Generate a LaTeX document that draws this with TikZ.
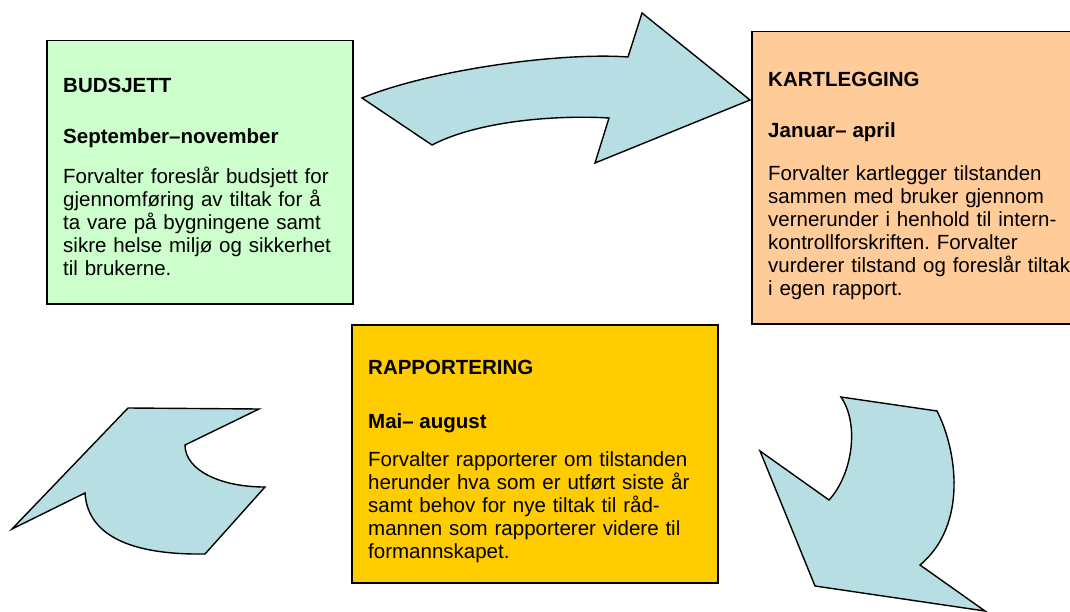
\documentclass[tikz,border=0pt]{standalone}
\usepackage{fontspec}
\setmainfont{Liberation Sans}
\frenchspacing
\definecolor{budfill}{HTML}{CCFFCC}
\definecolor{kartfill}{HTML}{FFCC99}
\definecolor{rappfill}{HTML}{FFCC00}
\definecolor{arrowfill}{RGB}{183,222,226}
\begin{document}
\begin{tikzpicture}[x=1pt,y=-1pt,
  phase/.style={draw=black, line width=1.5pt, anchor=north west, inner sep=0pt},
  txt/.style={anchor=base west, inner sep=0pt, align=left, text width=#1,
    font=\fontsize{20.5pt}{23pt}\selectfont},
  head/.style={anchor=base west, inner sep=0pt,
    font=\fontsize{20.5pt}{23pt}\selectfont\bfseries},
  bigarrow/.style={draw=black, line width=1.4pt, fill=arrowfill, line join=miter}
]
\useasboundingbox (0,0) rectangle (1070,612);

% curved arrows of the yearly cycle
\draw[bigarrow] (362,98) .. controls (430,70) and (560,52) .. (628,57)
  -- (642,13) -- (750,100) -- (595,163) -- (609,118)
  .. controls (560,115) and (480,120) .. (432,145) -- cycle;
\draw[bigarrow] (841,397) -- (937,411)
  .. controls (957,450) and (968,525) .. (920,565)
  -- (985,611) -- (815,586) -- (760,451) -- (829,500)
  .. controls (852,475) and (860,425) .. (841,397) -- cycle;
\draw[bigarrow] (128,408) -- (259,409) -- (185,445)
  .. controls (185,470) and (220,487) .. (265,487)
  -- (205,554) .. controls (140,555) and (88,540) .. (85,493)
  -- (12,529) -- cycle;

% phase boxes
\node[phase, fill=budfill, minimum width=306pt, minimum height=263pt] (bud) at (46,40) {};
\node[phase, fill=kartfill, minimum width=330pt, minimum height=292pt] (kart) at (751,31) {};
\node[phase, fill=rappfill, minimum width=366pt, minimum height=258pt] (rapp) at (351,324) {};

% budget
\node[head] (budH) at (63,93) {BUDSJETT};
\node[head] (budD) at (63,144) {September–november};
\node[txt=300pt] (budT) at (63,184) {Forvalter foreslår budsjett for\\
  gjennomføring av tiltak for å\\
  ta vare på bygningene samt\\
  sikre helse miljø og sikkerhet\\
  til brukerne.};

% survey
\node[head] (kartH) at (768,87) {KARTLEGGING};
\node[head] (kartD) at (768,138) {Januar– april};
\node[txt=310pt] (kartT) at (768,181) {Forvalter kartlegger tilstanden\\
  sammen med bruker gjennom\\
  vernerunder i henhold til intern-\\
  kontrollforskriften. Forvalter\\
  vurderer tilstand og foreslår tiltak\\
  i egen rapport.};

% reporting
\node[head] (rappH) at (368,374) {RAPPORTERING};
\node[head] (rappD) at (368,428) {Mai– august};
\node[txt=340pt] (rappT) at (368,466) {Forvalter rapporterer om tilstanden\\
  herunder hva som er utført siste år\\
  samt behov for nye tiltak til råd-\\
  mannen som rapporterer videre til\\
  formannskapet.};
\end{tikzpicture}
\end{document}
